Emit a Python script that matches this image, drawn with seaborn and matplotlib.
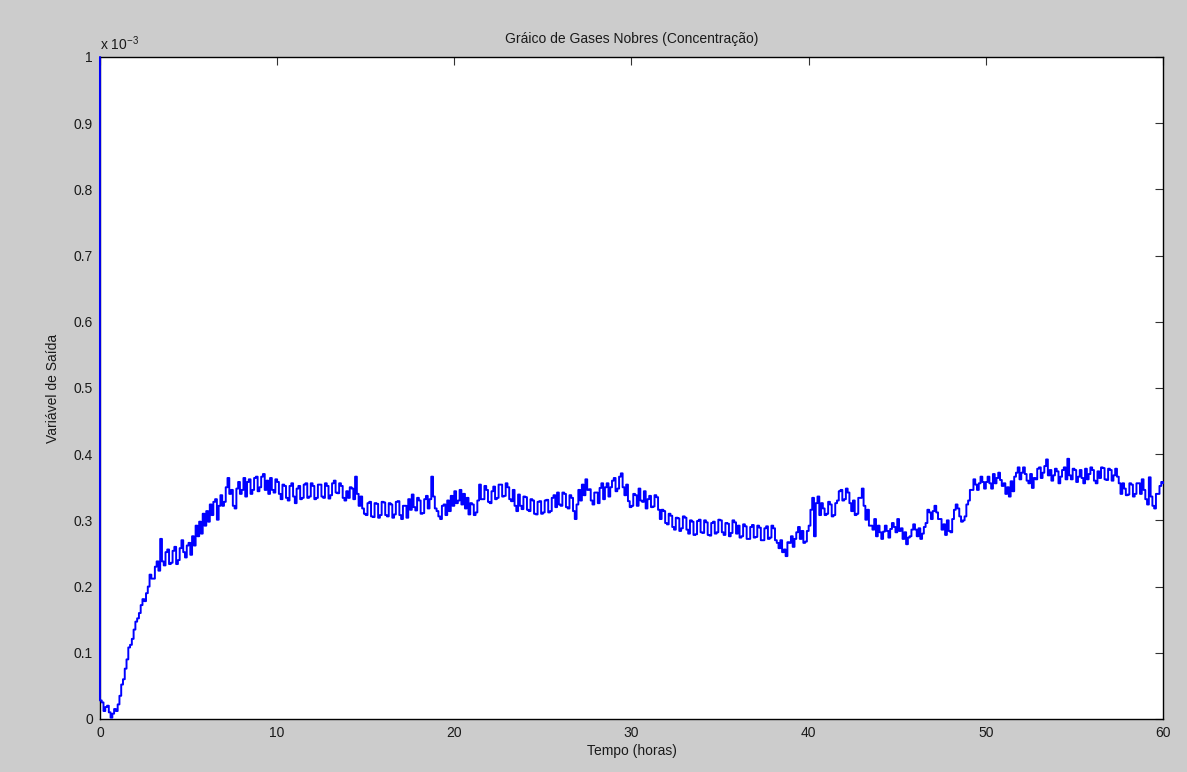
import numpy as np
import pandas as pd
import matplotlib
matplotlib.use("Agg")
import matplotlib.pyplot as plt
import seaborn as sns

# Output variable (units of 1e-3) sampled every 0.1 h from 0 to 60 h,
# one row of ten samples per hour
start_value = 1.0  # initial condition at t = 0
concentration = [
    0.028, 0.025, 0.012, 0.018, 0.020, 0.010, 0.002, 0.008, 0.015, 0.012,
    0.022, 0.035, 0.052, 0.060, 0.076, 0.090, 0.108, 0.112, 0.121, 0.135,
    0.147, 0.152, 0.160, 0.172, 0.181, 0.178, 0.190, 0.200, 0.218, 0.212,
    0.212, 0.230, 0.238, 0.224, 0.272, 0.238, 0.232, 0.252, 0.256, 0.234,
    0.236, 0.254, 0.260, 0.234, 0.240, 0.258, 0.270, 0.252, 0.244, 0.262,
    0.266, 0.248, 0.276, 0.262, 0.292, 0.276, 0.298, 0.280, 0.310, 0.292,
    0.314, 0.298, 0.324, 0.308, 0.328, 0.332, 0.301, 0.322, 0.338, 0.322,
    0.328, 0.350, 0.364, 0.340, 0.346, 0.322, 0.318, 0.348, 0.358, 0.340,
    0.346, 0.364, 0.336, 0.358, 0.362, 0.340, 0.346, 0.364, 0.366, 0.344,
    0.350, 0.366, 0.370, 0.346, 0.360, 0.340, 0.364, 0.346, 0.342, 0.362,
    0.358, 0.340, 0.332, 0.354, 0.352, 0.334, 0.330, 0.352, 0.356, 0.336,
    0.326, 0.348, 0.352, 0.332, 0.334, 0.354, 0.356, 0.334, 0.336, 0.356,
    0.352, 0.332, 0.334, 0.354, 0.354, 0.336, 0.334, 0.356, 0.352, 0.333,
    0.338, 0.356, 0.360, 0.342, 0.341, 0.356, 0.352, 0.334, 0.330, 0.344,
    0.334, 0.350, 0.348, 0.332, 0.366, 0.340, 0.322, 0.336, 0.318, 0.310,
    0.308, 0.326, 0.328, 0.306, 0.305, 0.326, 0.325, 0.304, 0.308, 0.328,
    0.327, 0.308, 0.306, 0.326, 0.324, 0.304, 0.309, 0.328, 0.329, 0.308,
    0.302, 0.322, 0.322, 0.304, 0.332, 0.316, 0.339, 0.320, 0.315, 0.334,
    0.330, 0.310, 0.311, 0.332, 0.337, 0.318, 0.332, 0.366, 0.336, 0.318,
    0.314, 0.306, 0.302, 0.322, 0.324, 0.308, 0.330, 0.314, 0.337, 0.322,
    0.344, 0.326, 0.330, 0.346, 0.324, 0.340, 0.318, 0.334, 0.309, 0.326,
    0.324, 0.308, 0.312, 0.330, 0.354, 0.332, 0.332, 0.352, 0.346, 0.328,
    0.326, 0.344, 0.351, 0.332, 0.334, 0.354, 0.354, 0.336, 0.337, 0.356,
    0.350, 0.332, 0.329, 0.346, 0.322, 0.314, 0.339, 0.322, 0.317, 0.336,
    0.335, 0.316, 0.314, 0.332, 0.330, 0.310, 0.309, 0.328, 0.329, 0.310,
    0.312, 0.330, 0.331, 0.312, 0.314, 0.334, 0.338, 0.320, 0.342, 0.324,
    0.322, 0.342, 0.340, 0.320, 0.318, 0.338, 0.334, 0.314, 0.302, 0.324,
    0.346, 0.330, 0.354, 0.338, 0.362, 0.346, 0.347, 0.330, 0.324, 0.342,
    0.342, 0.326, 0.349, 0.356, 0.332, 0.350, 0.356, 0.336, 0.350, 0.360,
    0.364, 0.344, 0.348, 0.366, 0.371, 0.350, 0.338, 0.354, 0.329, 0.320,
    0.322, 0.340, 0.338, 0.322, 0.348, 0.330, 0.328, 0.344, 0.318, 0.332,
    0.337, 0.320, 0.321, 0.338, 0.335, 0.316, 0.302, 0.316, 0.314, 0.296,
    0.294, 0.310, 0.307, 0.290, 0.286, 0.304, 0.303, 0.284, 0.288, 0.306,
    0.304, 0.286, 0.280, 0.300, 0.298, 0.278, 0.279, 0.299, 0.301, 0.282,
    0.281, 0.300, 0.297, 0.278, 0.277, 0.296, 0.298, 0.280, 0.282, 0.301,
    0.300, 0.282, 0.278, 0.296, 0.295, 0.276, 0.281, 0.300, 0.297, 0.280,
    0.292, 0.274, 0.276, 0.294, 0.291, 0.272, 0.272, 0.290, 0.293, 0.274,
    0.275, 0.292, 0.289, 0.270, 0.270, 0.288, 0.291, 0.272, 0.274, 0.292,
    0.288, 0.270, 0.266, 0.258, 0.270, 0.252, 0.256, 0.246, 0.267, 0.266,
    0.276, 0.260, 0.272, 0.282, 0.290, 0.272, 0.284, 0.266, 0.268, 0.284,
    0.292, 0.316, 0.334, 0.276, 0.326, 0.336, 0.308, 0.326, 0.318, 0.308,
    0.310, 0.328, 0.324, 0.306, 0.308, 0.326, 0.330, 0.344, 0.346, 0.330,
    0.332, 0.348, 0.342, 0.326, 0.314, 0.330, 0.308, 0.310, 0.334, 0.334,
    0.348, 0.322, 0.301, 0.316, 0.292, 0.292, 0.286, 0.302, 0.276, 0.292,
    0.282, 0.272, 0.283, 0.292, 0.284, 0.274, 0.287, 0.296, 0.290, 0.282,
    0.302, 0.284, 0.288, 0.272, 0.282, 0.264, 0.274, 0.276, 0.286, 0.294,
    0.286, 0.276, 0.288, 0.272, 0.280, 0.290, 0.296, 0.316, 0.312, 0.302,
    0.314, 0.322, 0.312, 0.302, 0.302, 0.286, 0.294, 0.278, 0.300, 0.284,
    0.282, 0.302, 0.316, 0.324, 0.318, 0.306, 0.298, 0.300, 0.306, 0.324,
    0.330, 0.346, 0.346, 0.362, 0.354, 0.346, 0.356, 0.366, 0.358, 0.348,
    0.358, 0.366, 0.356, 0.348, 0.370, 0.356, 0.364, 0.372, 0.361, 0.352,
    0.356, 0.340, 0.350, 0.336, 0.359, 0.344, 0.366, 0.372, 0.380, 0.362,
    0.372, 0.380, 0.370, 0.360, 0.356, 0.370, 0.349, 0.364, 0.362, 0.378,
    0.380, 0.364, 0.372, 0.382, 0.392, 0.368, 0.376, 0.360, 0.368, 0.378,
    0.374, 0.356, 0.366, 0.376, 0.380, 0.362, 0.393, 0.368, 0.362, 0.378,
    0.376, 0.358, 0.366, 0.376, 0.364, 0.356, 0.378, 0.362, 0.370, 0.380,
    0.376, 0.360, 0.356, 0.374, 0.364, 0.380, 0.379, 0.362, 0.361, 0.378,
    0.376, 0.360, 0.368, 0.378, 0.366, 0.356, 0.340, 0.356, 0.348, 0.338,
    0.339, 0.356, 0.354, 0.336, 0.340, 0.356, 0.356, 0.340, 0.362, 0.346,
    0.332, 0.324, 0.365, 0.336, 0.322, 0.318, 0.340, 0.340, 0.352, 0.358,
    0.356,
]
sample_step = 0.1  # hours between samples

x_ticks = [0, 10, 20, 30, 40, 50, 60]
y_ticks = [0, 0.1, 0.2, 0.3, 0.4, 0.5, 0.6, 0.7, 0.8, 0.9, 1]
y_ticklabels = ["0", "0.1", "0.2", "0.3", "0.4", "0.5", "0.6", "0.7", "0.8", "0.9", "1"]

title = "Gráico de Gases Nobres (Concentração)"
xlabel = "Tempo (horas)"
ylabel = "Variável de Saída"

hours = np.round(np.arange(len(concentration)) * sample_step, 2)
df = pd.DataFrame({
    "t": np.concatenate([[0.0], hours]),
    "y": np.concatenate([[start_value], concentration]),
})

sns.set_style("white")
plt.rcParams["font.family"] = ["Liberation Sans", "DejaVu Sans"]
plt.rcParams["mathtext.fontset"] = "custom"
plt.rcParams["mathtext.rm"] = "Liberation Sans"

bg = "#cccccc"
fig = plt.figure(figsize=(11.87, 7.72), dpi=100, facecolor=bg)
ax = fig.add_axes([0.0842, 0.0687, 0.8956, 0.8575])
ax.set_facecolor("white")

sns.lineplot(data=df, x="t", y="y", ax=ax, color="#0000ff", linewidth=1.4,
             estimator=None, sort=False, drawstyle="steps-post", zorder=3)
for ln in ax.get_lines():
    ln.set_clip_on(False)

ax.set_xlim(0, 60)
ax.set_ylim(0, 1)
ax.set_xticks(x_ticks)
ax.set_xticklabels([str(v) for v in x_ticks])
ax.set_yticks(y_ticks)
ax.set_yticklabels(y_ticklabels)

for s in ax.spines.values():
    s.set_visible(True)
    s.set_color("black")
    s.set_linewidth(1.0)

ax.tick_params(axis="both", which="major", direction="in", length=6,
               width=0.8, color="#333333", labelsize=10, labelcolor="#1a1a1a",
               top=True, right=True, pad=5)

ax.set_title(title, fontsize=10, color="#1a1a1a", pad=10)
ax.set_xlabel(xlabel, fontsize=10, color="#1a1a1a", labelpad=3)
ax.set_ylabel(ylabel, fontsize=10, color="#1a1a1a", labelpad=10)
ax.text(0.0, 1.006, r"x 10$^{\mathregular{-3}}$", transform=ax.transAxes,
        fontsize=10, color="#1a1a1a", ha="left", va="bottom")

fig.savefig("out.png", dpi=100, facecolor=bg)
